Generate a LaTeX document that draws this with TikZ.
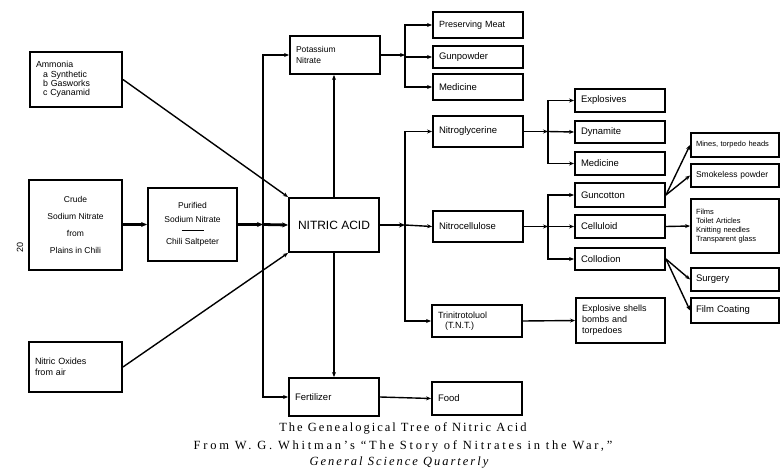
\documentclass[tikz,border=0pt]{standalone}
\usepackage{fontspec}
\setmainfont{Liberation Serif}
\newfontfamily\boxfont{Liberation Sans}
\usetikzlibrary{arrows.meta}
\begin{document}
\begin{tikzpicture}[x=1pt,y=-1pt,
  box/.style={draw, line width=1.9pt, inner ysep=0pt, font=\boxfont\fontsize{9.5}{10.5}\selectfont},
  lbox/.style={box, text width=78pt, inner xsep=6pt, align=left},
  rbox/.style={box, text width=78pt, inner xsep=5pt, align=left},
  cbox/.style={box, align=center, inner xsep=0pt},
  con/.style={line width=1.4pt, -{Stealth[length=5pt,width=4pt]}},
  thick con/.style={line width=2.8pt, -{Stealth[length=6pt,width=5pt]}},
  plain/.style={line width=1.4pt}]
\useasboundingbox (0,0) rectangle (780,474);

% left inputs
\node[box, minimum width=92pt, minimum height=55pt, text width=80pt, inner xsep=6pt, align=left, font=\boxfont\fontsize{8.8}{9.4}\selectfont] (amm) at (76,79.5)
  {Ammonia\\\hspace*{7pt}a Synthetic\\\hspace*{7pt}b Gasworks\\\hspace*{7pt}c Cyanamid\\[4pt]};
\node[cbox, minimum width=93pt, minimum height=90pt, font=\boxfont\fontsize{8.5}{17}\selectfont] (crude) at (75.5,225)
  {Crude\\Sodium Nitrate\\from\\Plains in Chili};
\node[cbox, minimum width=89pt, minimum height=73pt, font=\boxfont\fontsize{8.5}{13.5}\selectfont] (pur) at (192.5,224.5)
  {Purified\\Sodium Nitrate\\[-5pt]\rule{22pt}{0.7pt}\\Chili Saltpeter};
\node[box, minimum width=93pt, minimum height=50pt, text width=81pt, inner xsep=6pt, align=left, font=\boxfont\fontsize{9}{11}\selectfont] (nox) at (75.5,367)
  {Nitric Oxides\\from air\\[3pt]};
\node[rotate=90, font=\boxfont\fontsize{9}{10}\selectfont] (pg) at (20,247) {20};

% centre
\node[cbox, minimum width=90pt, minimum height=54pt, font=\boxfont\fontsize{12}{14}\selectfont] (nitric) at (334,225) {NITRIC ACID};
\node[lbox, minimum height=38pt, font=\boxfont\fontsize{8.5}{11}\selectfont] (pot) at (335,55) {Potassium\\Nitrate\\[4pt]};
\node[lbox, minimum height=38pt] (fert) at (334,397) {Fertilizer};
\node[lbox, minimum height=33pt] (food) at (477,398.5) {Food};

% potassium nitrate uses
\node[lbox, minimum height=26pt, font=\boxfont\fontsize{9}{10}\selectfont] (pm) at (478,25) {Preserving Meat};
\node[lbox, minimum height=22pt] (gun) at (478,57) {Gunpowder};
\node[lbox, minimum height=26pt] (med1) at (478,87) {Medicine};

% second level
\node[lbox, minimum height=31pt] (ng) at (478,131.5) {Nitroglycerine};
\node[lbox, minimum height=31pt] (nc) at (478,226.5) {Nitrocellulose};
\node[lbox, minimum height=32pt, font=\boxfont\fontsize{9}{10}\selectfont] (tnt) at (477,321) {Trinitrotoluol\\\hspace*{7pt}(T.N.T.)};

% third level
\node[lbox, minimum height=23pt] (expl) at (620,100.5) {Explosives};
\node[lbox, minimum height=22pt] (dyn) at (620,132) {Dynamite};
\node[lbox, minimum height=23pt] (med2) at (620,163.5) {Medicine};
\node[lbox, minimum height=24pt] (gc) at (620,195) {Guncotton};
\node[lbox, minimum height=23pt] (cel) at (620,226.5) {Celluloid};
\node[lbox, minimum height=22pt] (col) at (620,259) {Collodion};
\node[box, text width=77pt, inner xsep=6pt, align=left, minimum height=45pt, font=\boxfont\fontsize{9}{11}\selectfont] (shells) at (620.5,320.5) {Explosive shells\\bombs and\\torpedoes};

% fourth level
\node[rbox, minimum height=24pt, font=\boxfont\fontsize{7.5}{8}\selectfont] (mines) at (735,145) {Mines, torpedo heads};
\node[rbox, minimum height=23pt, font=\boxfont\fontsize{8.5}{9}\selectfont] (smoke) at (735,175.5) {Smokeless powder};
\node[rbox, minimum height=54pt, font=\boxfont\fontsize{7.5}{9}\selectfont] (films) at (735,226) {Films\\Toilet Articles\\Knitting needles\\Transparent glass};
\node[rbox, minimum height=23pt] (surg) at (735,279.5) {Surgery};
\node[rbox, minimum height=25pt] (fcoat) at (735,310.5) {Film Coating};

% junctions
\coordinate (j1) at (263,224.5);
\coordinate (j2) at (405,225);
\coordinate (j3) at (405,55);
\coordinate (j4) at (548,131.5);
\coordinate (j5) at (548,226.5);

% connectors: inputs
\draw[thick con] (crude.east |- pur.west) -- (pur.west);
\draw[thick con] (pur.east) -- (j1);
\draw[thick con] (j1) -- (nitric.west);
\draw[con] (j1) |- (pot.west);
\draw[con] (j1) |- (fert.west);
\draw[con] (amm.east) -- (nitric.north west);
\draw[con] (nox.east) -- (nitric.south west);
\draw[con] (nitric.north) -- (nitric.north |- pot.south);
\draw[con] (nitric.south) -- (nitric.south |- fert.north);

% potassium nitrate
\draw[con] (pot.east) -- (j3);
\draw[con] (j3) |- (pm.west);
\draw[con] (j3) |- (gun.west);
\draw[con] (j3) |- (med1.west);

% nitric acid outputs
\draw[thick con] (nitric.east) -- (j2);
\draw[con] (j2) |- (ng.west);
\draw[con] (j2) -- (nc.west);
\draw[con] (j2) |- (tnt.west);

% nitroglycerine
\draw[con] (ng.east) -- (j4);
\draw[con] (j4) |- (expl.west);
\draw[con] (j4) -- (dyn.west);
\draw[con] (j4) |- (med2.west);

% nitrocellulose
\draw[con] (nc.east) -- (j5);
\draw[con] (j5) |- (gc.west);
\draw[con] (j5) -- (cel.west);
\draw[con] (j5) |- (col.west);

\draw[con] (gc.east) -- (mines.west);
\draw[con] (gc.east) -- (smoke.west);
\draw[con] (cel.east) -- (films.west);
\draw[con] (col.east) -- (surg.west);
\draw[con] (col.east) -- (fcoat.west);
\draw[con] (tnt.east) -- (shells.west);
\draw[con] (fert.east) -- (food.west);

% caption
\node[font=\addfontfeature{LetterSpace=16}\fontsize{12.5}{14}\selectfont] (cap1) at (403,428) {The Genealogical Tree of Nitric Acid};
\node[font=\addfontfeature{LetterSpace=22}\fontsize{12.5}{14}\selectfont] (cap2) at (403,446) {From W. G. Whitman’s “The Story of Nitrates in the War,”};
\node[font=\itshape\addfontfeature{LetterSpace=16}\fontsize{12.5}{14}\selectfont] (cap3) at (399,463) {General Science Quarterly};
\end{tikzpicture}
\end{document}
